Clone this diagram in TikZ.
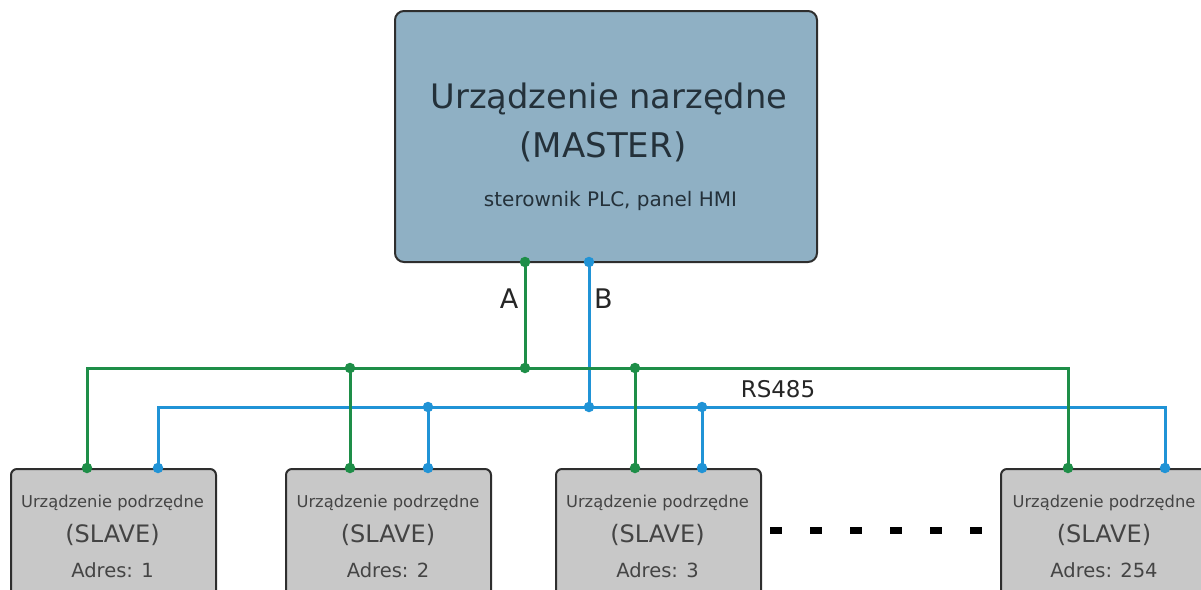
\documentclass[tikz,border=0pt]{standalone}
\usepackage{fontspec}
\setmainfont{DejaVu Sans}
\definecolor{masterfill}{HTML}{8FB0C4}
\definecolor{slavefill}{HTML}{C8C8C8}
\definecolor{edgecol}{HTML}{2E2E2E}
\definecolor{wgreen}{HTML}{1E8E48}
\definecolor{wblue}{HTML}{2093D6}
\definecolor{mtext}{HTML}{24313A}
\definecolor{stext}{HTML}{444444}
\tikzset{
  masterbox/.style={draw=edgecol, line width=2pt, fill=masterfill, rounded corners=9pt, inner sep=0pt},
  slavebox/.style={draw=edgecol, line width=2pt, fill=slavefill, rounded corners=6pt, inner sep=0pt, minimum width=205pt, minimum height=170pt, anchor=north west},
  gwire/.style={draw=wgreen, line width=3pt},
  bwire/.style={draw=wblue, line width=3pt},
  gdot/.style={circle, fill=wgreen, inner sep=0pt, minimum size=10.5pt},
  bdot/.style={circle, fill=wblue, inner sep=0pt, minimum size=10.5pt},
  sl1/.style={text=stext, anchor=base, inner sep=0pt, font=\fontsize{16.3}{19}\selectfont},
  sl2/.style={text=stext, anchor=base, inner sep=0pt, font=\fontsize{24}{28}\selectfont},
  sl3/.style={text=stext, anchor=base, inner sep=0pt, font=\fontsize{19.5}{23}\selectfont},
  mt/.style={text=mtext, anchor=base, inner sep=0pt},
  lbl/.style={text=black!85, anchor=base, inner sep=0pt},
  dashsep/.style={draw=black, line width=6.5pt, dash pattern=on 12pt off 28pt}
}
\begin{document}
\begin{tikzpicture}[x=1pt,y=-1pt]
\useasboundingbox (0,0) rectangle (1201,589);
\begin{scope}
\clip (0,0) rectangle (1201,589);
% master
\node[masterbox, minimum width=422pt, minimum height=251pt] (m) at (606,136.5) {};
\node[mt, font=\fontsize{33.7}{40}\selectfont] (mt1) at (609,108) {Urządzenie narzędne};
\node[mt, font=\fontsize{34}{40}\selectfont] (mt2) at (603,157) {(MASTER)};
\node[mt, font=\fontsize{20}{24}\selectfont] (mt3) at (610.5,206.5) {sterownik PLC, panel HMI};
% slaves
\node[slavebox] (s1) at (10,468) {};
\node[slavebox] (s2) at (285,468) {};
\node[slavebox] (s3) at (555,468) {};
\node[slavebox] (s4) at (1000,468) {};
\foreach \n/\x/\a in {s1/112.5/1, s2/388/2, s3/657.5/3, s4/1104/254}{
  \node[sl1] (\n t1) at (\x,507) {Urządzenie podrzędne};
  \node[sl2] (\n t2) at (\x,542) {(SLAVE)};
  \node[sl3] (\n t3) at (\x,577) {Adres: \a};
}
% separator dashes
\coordinate (d1) at (770,530.5);
\coordinate (d2) at (985,530.5);
\draw[dashsep] (d1) -- (d2);
% coordinates
\coordinate (mA) at (525,262);
\coordinate (mB) at (589,262);
\coordinate (jA) at (525,368);
\coordinate (jB) at (589,407);
\coordinate (g1) at (87,468);
\coordinate (g2) at (350,468);
\coordinate (g3) at (635,468);
\coordinate (g4) at (1068,468);
\coordinate (b1) at (158,468);
\coordinate (b2) at (428,468);
\coordinate (b3) at (702,468);
\coordinate (b4) at (1165,468);
\coordinate (jg2) at (350,368);
\coordinate (jg3) at (635,368);
\coordinate (jb2) at (428,407);
\coordinate (jb3) at (702,407);
% blue wires
\draw[bwire] (mB) -- (jB);
\draw[bwire] (b1) |- (jB) -| (b4);
\draw[bwire] (jb2) -- (b2);
\draw[bwire] (jb3) -- (b3);
% green wires
\draw[gwire] (mA) -- (jA);
\draw[gwire] (g1) |- (jA) -| (g4);
\draw[gwire] (jg2) -- (g2);
\draw[gwire] (jg3) -- (g3);
% dots
\foreach \c in {mA,jA,jg2,jg3,g1,g2,g3,g4}{\node[gdot] at (\c) {};}
\foreach \c in {mB,jB,jb2,jb3,b1,b2,b3,b4}{\node[bdot] at (\c) {};}
% labels
\node[lbl, font=\fontsize{27}{32}\selectfont] (la) at (509,308) {A};
\node[lbl, font=\fontsize{27}{32}\selectfont] (lb) at (603.5,308) {B};
\node[lbl, font=\fontsize{23}{27}\selectfont] (lr) at (778,397) {RS485};
\end{scope}
\end{tikzpicture}
\end{document}
